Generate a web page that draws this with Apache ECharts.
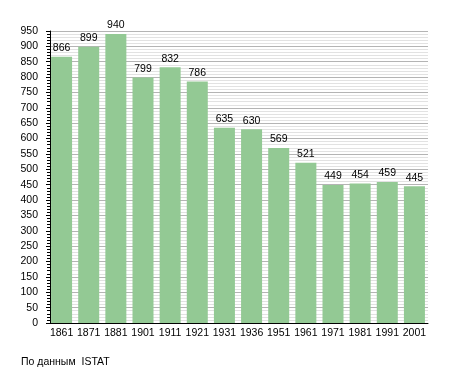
<!DOCTYPE html>
<html><head><meta charset="utf-8">
<script src="https://cdn.jsdelivr.net/npm/echarts@6/dist/echarts.min.js"></script>
<style>html,body{margin:0;padding:0;background:#fff}#c{width:455px;height:373px}</style>
</head><body><div id="c"></div>
<script>
const categories = ['1861','1871','1881','1901','1911','1921','1931','1936','1951','1961','1971','1981','1991','2001'];
const population = [866, 899, 940, 799, 832, 786, 635, 630, 569, 521, 449, 454, 459, 445];
const sourceNote = 'По данным  ISTAT';
const FONT = 'Liberation Sans, Arial, sans-serif';
const chart = echarts.init(document.getElementById('c'), null, {renderer:'canvas'});
chart.setOption({
  animation: false,
  backgroundColor: '#fff',
  grid: {left: 48, right: 27, top: 31, bottom: 50, containLabel: false},
  title: {text: sourceNote, left: 21, top: 357, padding: 0, textStyle: {fontFamily: FONT, fontSize: 10.5, fontWeight: 'normal', color: '#000'}},
  xAxis: {
    type: 'category', data: categories,
    axisLine: {lineStyle: {color: '#000', width: 1}},
    axisTick: {show: false},
    axisLabel: {interval: 0, color: '#000', fontFamily: FONT, fontSize: 10.5, margin: 5}
  },
  yAxis: {
    type: 'value', min: 0, max: 950, interval: 50, offset: -2,
    axisLine: {show: true, lineStyle: {color: '#000', width: 1}},
    axisTick: {show: true, length: 4, lineStyle: {color: '#000'}},
    minorTick: {show: true, splitNumber: 5, length: 3, lineStyle: {color: '#000'}},
    splitLine: {show: true, lineStyle: {color: '#b4b4b4', width: 1}},
    minorSplitLine: {show: true, lineStyle: {color: '#e2e2e2', width: 1}},
    axisLabel: {color: '#000', fontFamily: FONT, fontSize: 10.5, margin: 12}
  },
  series: [{
    type: 'bar', data: population, barWidth: 21,
    itemStyle: {color: '#93c994'},
    label: {show: true, position: 'top', distance: 3, color: '#000', fontFamily: FONT, fontSize: 10.5}
  }]
});
</script></body></html>
